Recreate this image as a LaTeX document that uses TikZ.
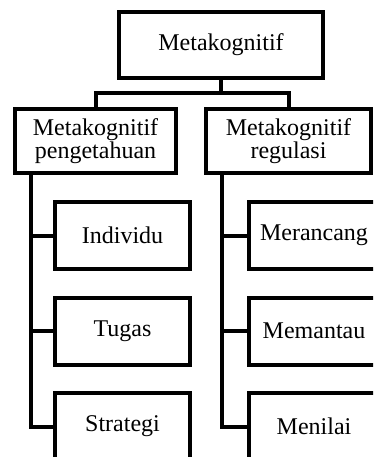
\documentclass[tikz,border=0pt]{standalone}
\usepackage{fontspec}
\setmainfont{Liberation Serif}
\begin{document}
\begin{tikzpicture}[x=1pt,y=-1pt,
  box/.style={draw,line width=4pt,rectangle,inner sep=0pt,align=center,
    font=\fontsize{24}{21}\selectfont},
  conn/.style={line width=4pt}]
\useasboundingbox (0,0) rectangle (373,457);
\clip (0,0) rectangle (373,457);
\node[box,minimum width=204pt,minimum height=66pt] (top) at (221,45) {Metakognitif};
\node[box,minimum width=161pt,minimum height=64pt] (lm) at (95.5,141) {Metakognitif\\pengetahuan};
\node[box,minimum width=165pt,minimum height=64pt] (rm) at (288.5,141) {Metakognitif\\regulasi};
\node[box,minimum width=135pt,minimum height=67pt] (l1) at (122.5,235.5) {Individu};
\node[box,minimum width=135pt,minimum height=67pt] (l2) at (122.5,331) {Tugas};
\node[box,minimum width=135pt,minimum height=67pt] (l3) at (122.5,426.5) {Strategi};
\node[box,minimum width=130pt,minimum height=67pt] (r1) at (314,235.5) {Merancang};
\node[box,minimum width=130pt,minimum height=67pt] (r2) at (314,331) {Memantau};
\node[box,minimum width=130pt,minimum height=67pt] (r3) at (314,426.5) {Menilai};
\coordinate (bar) at (221,93);
\coordinate (ltx) at (31,0);
\coordinate (rtx) at (222,0);
\draw[conn] (top.south) -- (bar);
\draw[conn] (lm.north) |- (bar) -| (rm.north);
\draw[conn] (lm.south -| ltx) |- (l3.west);
\draw[conn] (ltx |- l1.west) -- (l1.west);
\draw[conn] (ltx |- l2.west) -- (l2.west);
\draw[conn] (rm.south -| rtx) |- (r3.west);
\draw[conn] (rtx |- r1.west) -- (r1.west);
\draw[conn] (rtx |- r2.west) -- (r2.west);
\end{tikzpicture}
\end{document}
